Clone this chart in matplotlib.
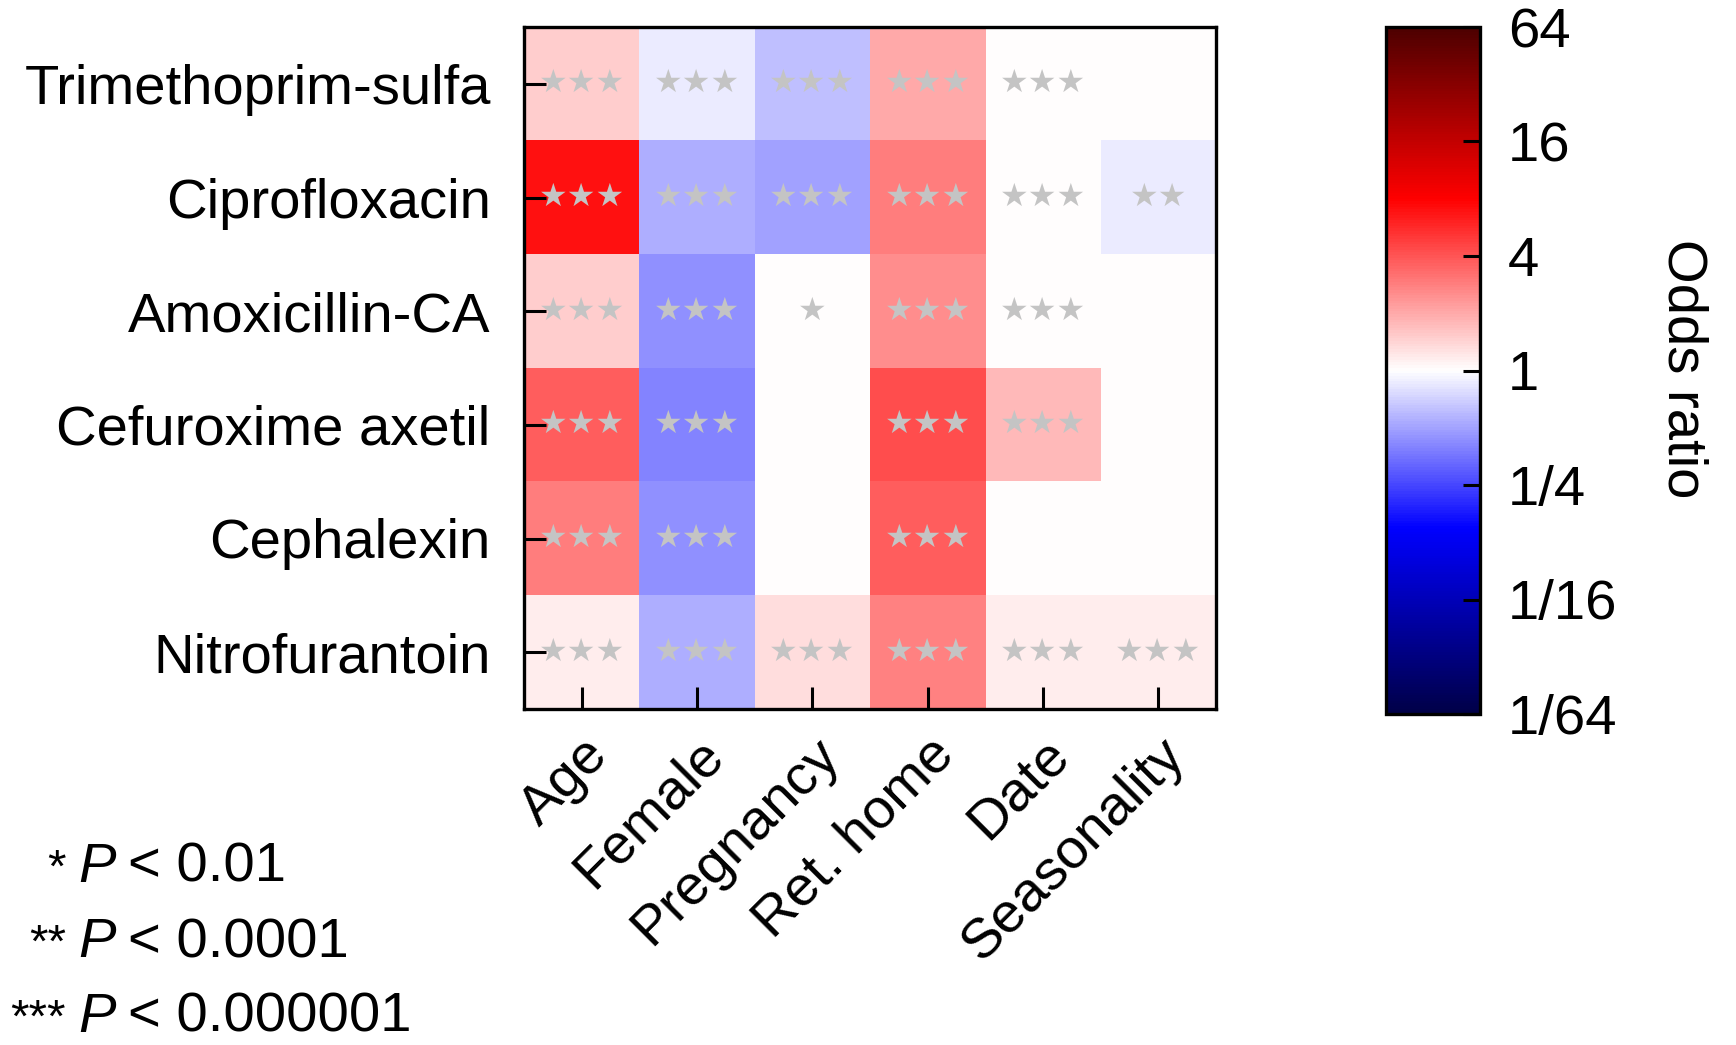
import numpy as np
import matplotlib
matplotlib.use("Agg")
import matplotlib.pyplot as plt
from matplotlib.colors import LinearSegmentedColormap, LogNorm

plt.rcParams['font.family'] = ['Liberation Sans', 'DejaVu Sans']

drugs = ["Trimethoprim-sulfa", "Ciprofloxacin", "Amoxicillin-CA",
         "Cefuroxime axetil", "Cephalexin", "Nitrofurantoin"]
factors = ["Age", "Female", "Pregnancy", "Ret. home", "Date", "Seasonality"]

# odds ratios
odds = [
    [1.52, 0.86, 0.62, 2.00, 1.01, 1.00],
    [7.00, 0.55, 0.49, 2.83, 1.01, 0.86],
    [1.52, 0.44, 1.00, 2.55, 1.01, 1.00],
    [3.73, 0.39, 1.00, 4.29, 1.74, 1.00],
    [2.83, 0.44, 1.00, 3.73, 1.00, 1.00],
    [1.17, 0.55, 1.32, 2.77, 1.15, 1.15],
]
# number of stars per cell
signif = [
    [3, 3, 3, 3, 3, 0],
    [3, 3, 3, 3, 3, 2],
    [3, 3, 1, 3, 3, 0],
    [3, 3, 0, 3, 3, 0],
    [3, 3, 0, 3, 0, 0],
    [3, 3, 3, 3, 3, 3],
]
cb_ticks = [1/64, 1/16, 1/4, 1, 4, 16, 64]
cb_labels = ["1/64", "1/16", "1/4", "1", "4", "16", "64"]
legend_stars = ["*", "**", "***"]
legend_p = ["0.01", "0.0001", "0.000001"]

cmap = LinearSegmentedColormap.from_list("or", [
    (0.0, (0.0, 0.0, 0.28)),
    (0.27, (0.0, 0.0, 1.0)),
    (0.5, (1.0, 1.0, 1.0)),
    (0.75, (1.0, 0.0, 0.0)),
    (1.0, (0.3, 0.0, 0.0)),
])
norm = LogNorm(vmin=1/64, vmax=64)
FS = 40.5

W, H = 1736, 1045
fig = plt.figure(figsize=(W / 100, H / 100), dpi=100)
ax = fig.add_axes([524 / W, 1 - 709 / H, 692 / W, 682 / H])

im = ax.imshow(np.array(odds), cmap=cmap, norm=norm, aspect="auto")
for i, row in enumerate(signif):
    for j, n in enumerate(row):
        if n:
            ax.text(j, i, "\u2605" * n, ha="center", va="center",
                    fontsize=23, color="#c4c4c4", family="DejaVu Sans")

ax.set_xticks(range(len(factors)))
ax.set_xticklabels(factors, rotation=45, ha="right", va="top",
                   rotation_mode="anchor", fontsize=FS)
ax.set_yticks(range(len(drugs)))
ax.set_yticklabels(drugs, fontsize=FS)
ax.tick_params(direction="in", length=16, width=2.2, pad=24)
ax.tick_params(axis="x", pad=14)
for s in ax.spines.values():
    s.set_linewidth(2.4)

cax = fig.add_axes([1386 / W, 1 - 714 / H, 94 / W, 687 / H])
cb = fig.colorbar(im, cax=cax, ticks=cb_ticks)
cb.ax.minorticks_off()
cb.ax.set_yticklabels(cb_labels, fontsize=FS)
cb.ax.tick_params(direction="in", length=12, width=2.2, pad=20)
cb.outline.set_linewidth(2.4)
fig.text(1683 / W, 1 - 369 / H, "Odds ratio", rotation=270,
         ha="center", va="center", fontsize=FS)

for k, (st, p) in enumerate(zip(legend_stars, legend_p)):
    y = 1 - (882 + 75 * k) / H
    fig.text(66 / W, y, st, ha="right", va="baseline", fontsize=34)
    fig.text(78 / W, y, "P", ha="left", va="baseline", fontsize=FS,
             fontstyle="italic")
    fig.text(128 / W, y, "< " + p, ha="left", va="baseline", fontsize=FS)

fig.savefig("out.png", dpi=100)
